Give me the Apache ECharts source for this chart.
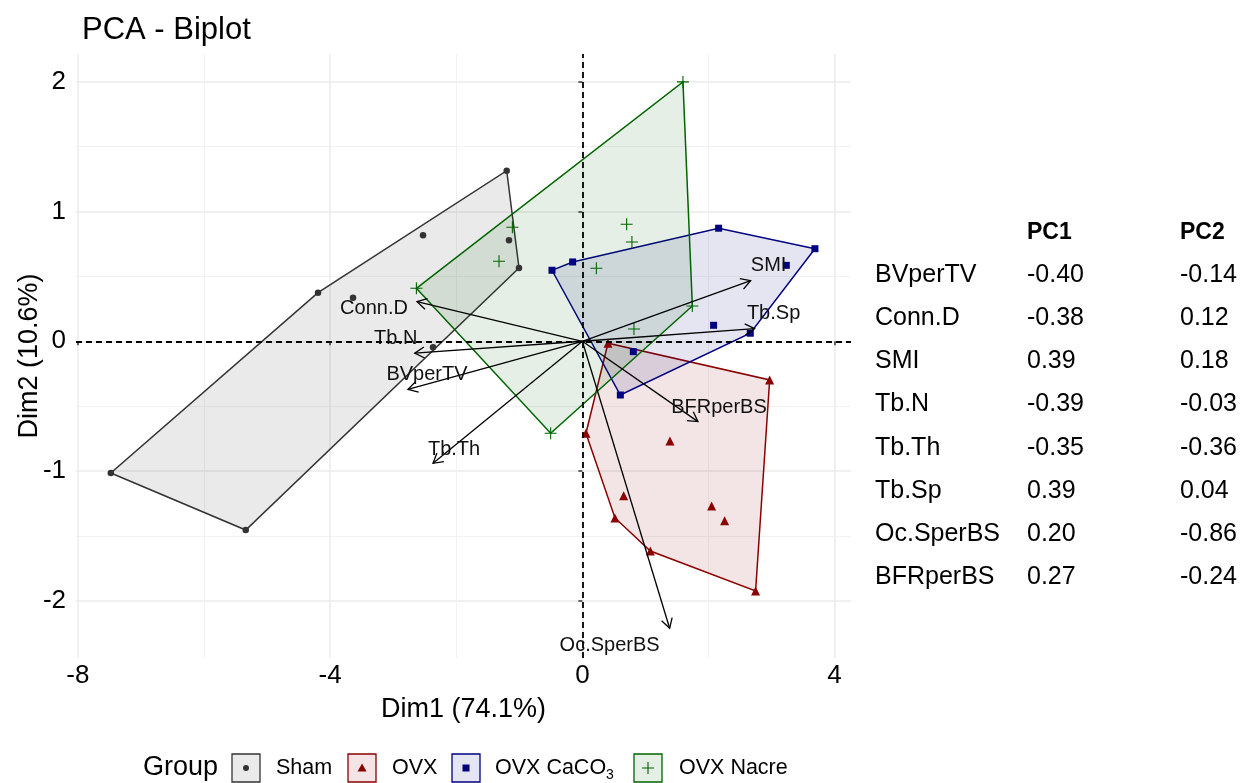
<!DOCTYPE html>
<html><head><meta charset="utf-8">
<script src="https://cdn.jsdelivr.net/npm/echarts@6/dist/echarts.min.js"></script>
<style>html,body{margin:0;padding:0;background:#fff;}#c{width:1249px;height:783px;}</style>
</head><body><div id="c"></div>
<script>
// ---------------- data ----------------
const groups = ['Sham', 'OVX', 'OVX CaCO3', 'OVX Nacre'];
const shamX = [-7.478, -5.338, -4.192, -3.637, -2.527, -1.200, -1.164, -1.005, -2.368];
const shamY = [-1.015, -1.454, 0.374, 0.336, 0.817, 1.314, 0.778, 0.565, -0.046];
const ovxX = [0.406, 2.970, 0.057, 1.389, 0.655, 0.517, 2.050, 2.256, 1.078, 2.747];
const ovxY = [-0.015, -0.298, -0.709, -0.768, -1.190, -1.361, -1.269, -1.382, -1.616, -1.924];
const cacoX = [-0.482, -0.154, 2.161, 3.688, 3.234, 2.081, 2.663, 0.808, 0.602];
const cacoY = [0.547, 0.611, 0.871, 0.713, 0.585, 0.123, 0.062, -0.080, -0.414];
const nacreX = [1.595, 0.702, 0.786, -1.110, -1.322, -2.632, -0.503, 0.222, 1.744, 0.818];
const nacreY = [1.998, 0.901, 0.765, 0.878, 0.616, 0.408, -0.709, 0.562, 0.272, 0.095];

const varNames = ['BVperTV', 'Conn.D', 'SMI', 'Tb.N', 'Tb.Th', 'Tb.Sp', 'Oc.SperBS', 'BFRperBS'];
const pc1 = [-0.40, -0.38, 0.39, -0.39, -0.35, 0.39, 0.20, 0.27];
const pc2 = [-0.14, 0.12, 0.18, -0.03, -0.36, 0.04, -0.86, -0.24];
const arrowX = [-2.765, -2.622, 2.668, -2.658, -2.368, 2.731, 1.384, 1.833];
const arrowY = [-0.370, 0.305, 0.467, -0.092, -0.940, 0.097, -2.211, -0.619];

const xTicks = [-8, -4, 0, 4];
const xMinor = [-6, -2, 2];
const yTicks = [-2, -1, 0, 1, 2];
const yMinor = [-1.5, -0.5, 0.5, 1.5];

// ---------------- styles / layout ----------------
const FONT = '"Liberation Sans", Arial, Helvetica, sans-serif';
const X_MIN = -8.03, X_MAX = 4.26, Y_MIN = -2.44, Y_MAX = 2.213;
const colors = ['#333333', '#8B0000', '#000080', '#006400'];
const FILL_ALPHA = 0.1;
// label offsets (px) relative to arrow tips, in varNames order
const labelOffsets = [[19, -15], [-43, 7], [18, -15], [-19, -15], [21, -14], [19, -15], [-60, 17], [21, -14]];

function rgba(hex, a) {
  const r = parseInt(hex.slice(1, 3), 16), g = parseInt(hex.slice(3, 5), 16), b = parseInt(hex.slice(5, 7), 16);
  return 'rgba(' + r + ',' + g + ',' + b + ',' + a + ')';
}
function hull(pts) {
  const p = pts.slice().sort((a, b) => a[0] - b[0] || a[1] - b[1]);
  const cross = (o, a, b) => (a[0] - o[0]) * (b[1] - o[1]) - (a[1] - o[1]) * (b[0] - o[0]);
  const lower = [], upper = [];
  for (const q of p) { while (lower.length >= 2 && cross(lower[lower.length - 2], lower[lower.length - 1], q) <= 0) lower.pop(); lower.push(q); }
  for (let i = p.length - 1; i >= 0; i--) { const q = p[i]; while (upper.length >= 2 && cross(upper[upper.length - 2], upper[upper.length - 1], q) <= 0) upper.pop(); upper.push(q); }
  upper.pop(); lower.pop();
  return lower.concat(upper);
}

const groupData = [[shamX, shamY], [ovxX, ovxY], [cacoX, cacoY], [nacreX, nacreY]];
const PLUS = 'path://M5,0H6V5H11V6H6V11H5V6H0V5H5Z';
const symbols = ['circle', 'triangle', 'rect', PLUS];
const symbolSizes = [6.5, 9, 7, 12];

const series = [];
// dashed zero lines
series.push({
  type: 'scatter', data: [], z: 1, silent: true,
  markLine: {
    silent: true, symbol: ['none', 'none'], label: { show: false },
    lineStyle: { type: [6, 4], color: '#000', width: 1.8 },
    data: [{ xAxis: 0 }, { yAxis: 0 }], animation: false
  }
});
// hull polygons
groupData.forEach(([xs, ys], gi) => {
  const pts = hull(xs.map((x, i) => [x, ys[i]]));
  series.push({
    type: 'custom', name: groups[gi] + ' hull', z: 2, silent: true,
    data: [[pts[0][0], pts[0][1]]], encode: { x: 0, y: 1 },
    renderItem: (params, api) => ({
      type: 'polygon',
      shape: { points: pts.map(p => api.coord(p)) },
      style: { fill: rgba(colors[gi], FILL_ALPHA), stroke: colors[gi], lineWidth: 1.5 }
    })
  });
});
// points
groupData.forEach(([xs, ys], gi) => {
  series.push({
    type: 'scatter', name: groups[gi], z: 3, silent: true,
    symbol: symbols[gi], symbolSize: symbolSizes[gi],
    itemStyle: { color: colors[gi], opacity: 1 },
    data: xs.map((x, i) => [x, ys[i]])
  });
});
// variable arrows
series.push({
  type: 'custom', name: 'vars', z: 4, silent: true,
  data: arrowX.map((x, i) => [x, arrowY[i], i]), encode: { x: 0, y: 1 },
  renderItem: (params, api) => {
    const i = api.value(2);
    const o = api.coord([0, 0]);
    const t = api.coord([api.value(0), api.value(1)]);
    const ang = Math.atan2(t[1] - o[1], t[0] - o[0]);
    const L = 11, A = Math.PI / 6;
    const w1 = [t[0] - L * Math.cos(ang - A), t[1] - L * Math.sin(ang - A)];
    const w2 = [t[0] - L * Math.cos(ang + A), t[1] - L * Math.sin(ang + A)];
    const off = labelOffsets[i];
    return {
      type: 'group', children: [
        { type: 'line', shape: { x1: o[0], y1: o[1], x2: t[0], y2: t[1] }, style: { stroke: '#000', lineWidth: 1.3 } },
        { type: 'polyline', shape: { points: [w1, t, w2] }, style: { stroke: '#000', fill: null, lineWidth: 1.3 } },
        { type: 'text', x: t[0] + off[0], y: t[1] + off[1], style: { text: varNames[i], font: '20px ' + FONT, fill: '#111', align: 'center', verticalAlign: 'middle' } }
      ]
    };
  }
});

// ---------------- graphic: table + legend ----------------
const graphic = [];
const colX = [875, 1027, 1180];
const headerY = 232.5, rowY0 = 275, rowStep = 43.2;
graphic.push({ type: 'text', x: colX[1], y: headerY, style: { text: 'PC1', font: 'bold 23px ' + FONT, fill: '#000', verticalAlign: 'middle' } });
graphic.push({ type: 'text', x: colX[2], y: headerY, style: { text: 'PC2', font: 'bold 23px ' + FONT, fill: '#000', verticalAlign: 'middle' } });
varNames.forEach((v, i) => {
  const y = rowY0 + rowStep * i;
  graphic.push({ type: 'text', x: colX[0], y, style: { text: v, font: '25px ' + FONT, fill: '#000', verticalAlign: 'middle' } });
  graphic.push({ type: 'text', x: colX[1], y, style: { text: pc1[i].toFixed(2), font: '25px ' + FONT, fill: '#000', verticalAlign: 'middle' } });
  graphic.push({ type: 'text', x: colX[2], y, style: { text: pc2[i].toFixed(2), font: '25px ' + FONT, fill: '#000', verticalAlign: 'middle' } });
});
// legend
const LEG_Y = 768, BOX = 28;
const boxX = [232, 348, 452, 634];
const labX = [276, 392, 495, 679];
graphic.push({ type: 'text', x: 143, y: LEG_Y, style: { text: 'Group', font: '27px ' + FONT, fill: '#000', verticalAlign: 'middle' } });
groups.forEach((g, gi) => {
  const bx = boxX[gi], cx = bx + BOX / 2, cy = LEG_Y;
  graphic.push({ type: 'rect', shape: { x: bx, y: cy - BOX / 2, width: BOX, height: BOX }, style: { fill: rgba(colors[gi], FILL_ALPHA), stroke: colors[gi], lineWidth: 1.3 } });
  let sym;
  if (gi === 0) sym = { type: 'circle', shape: { cx, cy, r: 3 }, style: { fill: colors[gi] } };
  else if (gi === 1) sym = { type: 'polygon', shape: { points: [[cx, cy - 4.5], [cx + 4.5, cy + 3.5], [cx - 4.5, cy + 3.5]] }, style: { fill: colors[gi] } };
  else if (gi === 2) sym = { type: 'rect', shape: { x: cx - 3.5, y: cy - 3.5, width: 7, height: 7 }, style: { fill: colors[gi] } };
  else sym = { type: 'polyline', shape: { points: [[cx - 6, cy], [cx + 6, cy], [cx, cy], [cx, cy - 6], [cx, cy + 6]] }, style: { stroke: colors[gi], lineWidth: 1.1, fill: null } };
  graphic.push(sym);
  if (gi === 2) {
    graphic.push({ type: 'text', x: labX[gi], y: cy, style: {
      text: '{a|OVX CaCO}{s|3}', verticalAlign: 'middle', fill: '#000',
      rich: { a: { font: '21.5px ' + FONT, lineHeight: 28, verticalAlign: 'middle' }, s: { font: '14px ' + FONT, lineHeight: 14, verticalAlign: 'bottom' } }
    } });
  } else {
    graphic.push({ type: 'text', x: labX[gi], y: cy, style: { text: g, font: '21.5px ' + FONT, fill: '#000', verticalAlign: 'middle' } });
  }
});

const chart = echarts.init(document.getElementById('c'), null, { renderer: 'canvas' });
chart.setOption({
  animation: false,
  backgroundColor: '#fff',
  title: { text: 'PCA - Biplot', left: 77, top: 10, textStyle: { fontSize: 31, fontWeight: 'normal', color: '#000', fontFamily: FONT } },
  grid: { left: 76, top: 54, width: 775, height: 604, containLabel: false, outerBoundsMode: 'none' },
  xAxis: [
    {
      type: 'value', min: X_MIN, max: X_MAX, position: 'bottom',
      name: 'Dim1 (74.1%)', nameLocation: 'middle', nameGap: 38,
      nameTextStyle: { fontSize: 27, color: '#000', fontFamily: FONT },
      axisLine: { show: false },
      axisTick: { show: true, customValues: xTicks, length: 4, lineStyle: { color: '#333', width: 1.5 } },
      axisLabel: { customValues: xTicks, fontSize: 26, color: '#000', fontFamily: FONT, margin: 5 },
      splitLine: { show: true, lineStyle: { color: '#ebebeb', width: 1.5 } }
    },
    {
      type: 'value', min: X_MIN, max: X_MAX, position: 'bottom',
      axisLine: { show: false },
      axisTick: { show: false, customValues: xMinor },
      axisLabel: { show: false, customValues: xMinor },
      splitLine: { show: true, lineStyle: { color: '#f0f0f0', width: 0.9 } }
    }
  ],
  yAxis: [
    {
      type: 'value', min: Y_MIN, max: Y_MAX, position: 'left',
      name: 'Dim2 (10.6%)', nameLocation: 'middle', nameGap: 33, nameMoveOverlap: false,
      nameTextStyle: { fontSize: 27, color: '#000', fontFamily: FONT },
      axisLine: { show: false },
      axisTick: { show: true, customValues: yTicks, length: 4, lineStyle: { color: '#333', width: 1.5 } },
      axisLabel: { customValues: yTicks, fontSize: 26, color: '#000', fontFamily: FONT, margin: 10 },
      splitLine: { show: true, lineStyle: { color: '#ebebeb', width: 1.5 } }
    },
    {
      type: 'value', min: Y_MIN, max: Y_MAX, position: 'left',
      axisLine: { show: false },
      axisTick: { show: false, customValues: yMinor },
      axisLabel: { show: false, customValues: yMinor },
      splitLine: { show: true, lineStyle: { color: '#f0f0f0', width: 0.9 } }
    }
  ],
  series: series,
  graphic: graphic
});
</script></body></html>
